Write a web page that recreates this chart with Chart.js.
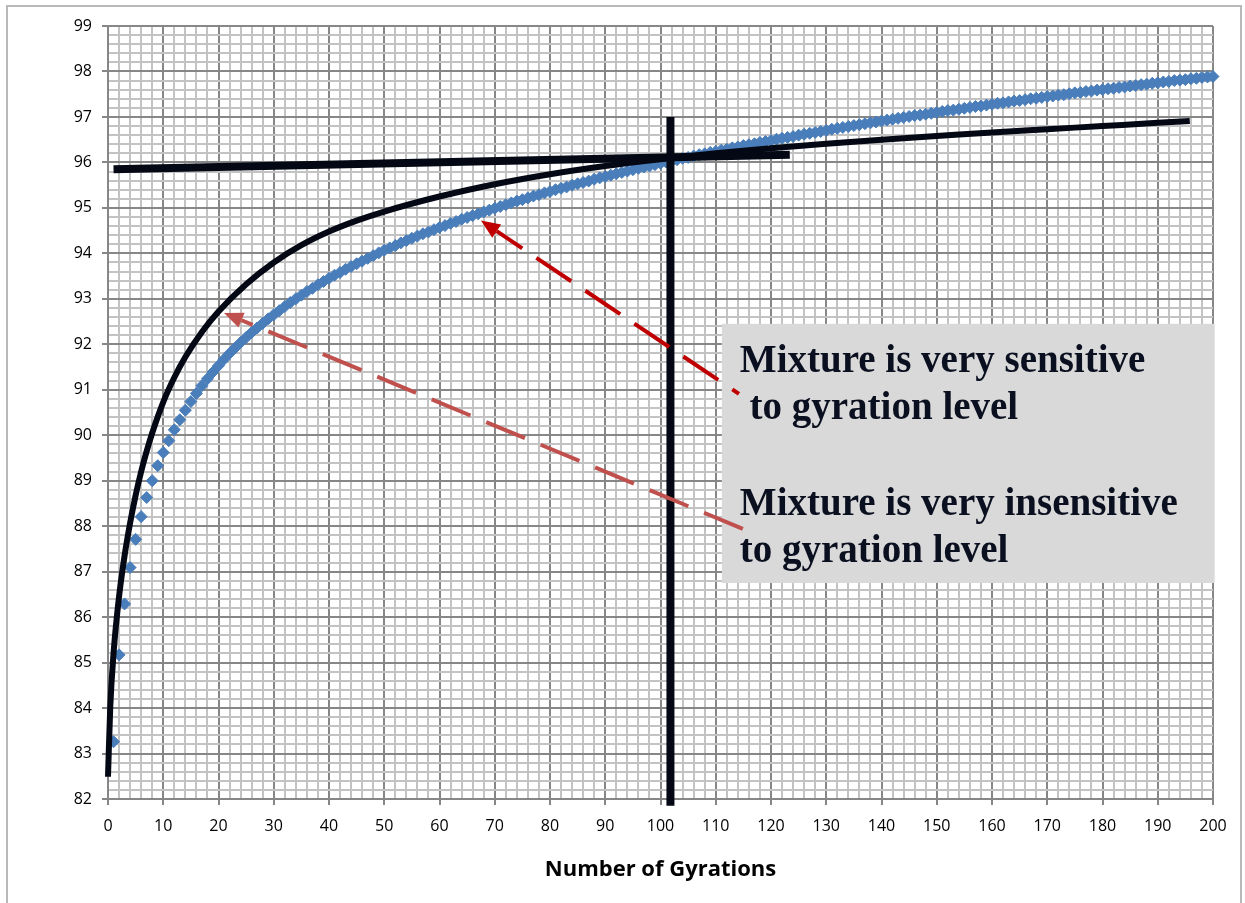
<!DOCTYPE html>
<html>
<head>
<meta charset="utf-8">
<script src="https://cdn.jsdelivr.net/npm/chart.js@4.4.1/dist/chart.umd.min.js"></script>
<style>
  html, body { margin: 0; padding: 0; background: #fff; overflow: hidden; }
  #frame { position: absolute; left: 6px; top: 5px; width: 1236px; height: 930px; border: 2px solid #b9b9b9; box-sizing: border-box; }
  #gyrChart { position: absolute; left: 0; top: 0; }
</style>
</head>
<body>
<div id="frame"></div>
<canvas id="gyrChart" width="1245" height="903"></canvas>
<script>
// blue diamonds, one per gyration (1..200)
const densityY = [
    83.26, 85.17, 86.29, 87.09, 87.71, 88.21, 88.63, 89.00, 89.33, 89.62,
    89.88, 90.12, 90.34, 90.55, 90.74, 90.92, 91.09, 91.24, 91.39, 91.53,
    91.67, 91.80, 91.92, 92.04, 92.15, 92.26, 92.36, 92.46, 92.56, 92.65,
    92.74, 92.83, 92.92, 93.00, 93.08, 93.16, 93.23, 93.31, 93.38, 93.45,
    93.52, 93.58, 93.65, 93.71, 93.77, 93.83, 93.89, 93.95, 94.01, 94.07,
    94.12, 94.17, 94.23, 94.28, 94.33, 94.38, 94.43, 94.47, 94.52, 94.57,
    94.61, 94.66, 94.70, 94.75, 94.79, 94.83, 94.87, 94.91, 94.95, 94.99,
    95.03, 95.07, 95.11, 95.15, 95.18, 95.22, 95.26, 95.29, 95.33, 95.36,
    95.40, 95.43, 95.46, 95.50, 95.53, 95.56, 95.59, 95.63, 95.66, 95.69,
    95.72, 95.75, 95.78, 95.81, 95.84, 95.87, 95.90, 95.92, 95.95, 95.98,
    96.01, 96.03, 96.06, 96.09, 96.11, 96.14, 96.17, 96.19, 96.22, 96.24,
    96.27, 96.29, 96.32, 96.34, 96.37, 96.39, 96.41, 96.44, 96.46, 96.48,
    96.51, 96.53, 96.55, 96.57, 96.60, 96.62, 96.64, 96.66, 96.68, 96.70,
    96.73, 96.75, 96.77, 96.79, 96.81, 96.83, 96.85, 96.87, 96.89, 96.91,
    96.93, 96.95, 96.97, 96.99, 97.01, 97.03, 97.04, 97.06, 97.08, 97.10,
    97.12, 97.14, 97.15, 97.17, 97.19, 97.21, 97.23, 97.24, 97.26, 97.28,
    97.30, 97.31, 97.33, 97.35, 97.36, 97.38, 97.40, 97.41, 97.43, 97.45,
    97.46, 97.48, 97.49, 97.51, 97.53, 97.54, 97.56, 97.57, 97.59, 97.60,
    97.62, 97.63, 97.65, 97.66, 97.68, 97.69, 97.71, 97.72, 97.74, 97.75,
    97.77, 97.78, 97.80, 97.81, 97.82, 97.84, 97.85, 97.87, 97.88, 97.89
];
const densityX = densityY.map((v, i) => i + 1);

// black curve
const curveX = [0, 0.4, 1, 2, 3, 4, 5, 6, 7, 8, 10, 12, 14, 17, 20, 25, 30, 35, 40, 45, 50,
    60, 70, 80, 90, 100, 110, 120, 130, 140, 150, 160, 170, 180, 190, 195.8];
const curveY = [82.49, 84.0, 85.2, 86.45, 87.35, 88.07, 88.68, 89.2, 89.65, 90.05, 90.73, 91.27, 91.72, 92.27, 92.72, 93.32, 93.8, 94.18, 94.48, 94.72, 94.92,
    95.25, 95.52, 95.74, 95.92, 96.07, 96.2, 96.31, 96.41, 96.5, 96.58, 96.66, 96.73, 96.8, 96.87, 96.91];

// thick straight lines
const flatX = [1, 123.4];
const flatY = [95.85, 96.17];
const markX = [101.8, 101.8];
const markY = [97.0, 81.85];

const xTicks = [0, 200, 2];
const yTicks = [82, 99, 0.2];

const noteLines = ['Mixture is very sensitive', ' to gyration level', 'Mixture is very insensitive', 'to gyration level'];
const noteBox = { x0: 111.1, x1: 200.3, y0: 92.45, y1: 86.75 };
const arrows = [
    { from: [114.2, 90.91], to: [67.5, 94.72], color: '#c00000', offset: 34 },
    { from: [114.9, 87.94], to: [21.0, 92.69], color: '#c0504d', offset: 0 }
];

function pts(xs, ys) {
    return xs.map((x, i) => ({ x: x, y: ys[i] }));
}

const major = '#878787';
const minor = '#c3c3c3';

const notesPlugin = {
    id: 'notes',
    afterDatasetsDraw(chart) {
        const ctx = chart.ctx;
        const sx = chart.scales.x, sy = chart.scales.y;
        const bx = sx.getPixelForValue(noteBox.x0), by = sy.getPixelForValue(noteBox.y0);
        const bw = sx.getPixelForValue(noteBox.x1) - bx, bh = sy.getPixelForValue(noteBox.y1) - by;
        ctx.save();
        ctx.fillStyle = '#d9d9d9';
        ctx.fillRect(bx, by, bw, bh);
        ctx.fillStyle = '#0b1020';
        ctx.font = 'bold 39px "Liberation Serif"';
        ctx.textBaseline = 'alphabetic';
        const base = [48, 95, 191, 238];
        noteLines.forEach((t, i) => ctx.fillText(t, bx + 18, by + base[i]));

        arrows.forEach(a => {
            const x1 = sx.getPixelForValue(a.from[0]), y1 = sy.getPixelForValue(a.from[1]);
            const x2 = sx.getPixelForValue(a.to[0]), y2 = sy.getPixelForValue(a.to[1]);
            const ang = Math.atan2(y2 - y1, x2 - x1);
            const head = 19;
            const ex = x2 - Math.cos(ang) * head, ey = y2 - Math.sin(ang) * head;
            ctx.strokeStyle = a.color;
            ctx.fillStyle = a.color;
            ctx.lineWidth = 4;
            ctx.setLineDash([42, 17]);
            ctx.lineDashOffset = a.offset;
            ctx.beginPath();
            ctx.moveTo(x1, y1);
            ctx.lineTo(ex, ey);
            ctx.stroke();
            ctx.setLineDash([]);
            ctx.beginPath();
            ctx.moveTo(x2, y2);
            ctx.lineTo(ex + Math.sin(ang) * 8, ey - Math.cos(ang) * 8);
            ctx.lineTo(ex - Math.sin(ang) * 8, ey + Math.cos(ang) * 8);
            ctx.closePath();
            ctx.fill();
        });
        ctx.restore();
    }
};

const ctx = document.getElementById('gyrChart');
new Chart(ctx, {
    type: 'scatter',
    data: {
        datasets: [
            {
                data: pts(markX, markY), showLine: true, borderColor: '#030814', borderWidth: 8,
                borderCapStyle: 'butt', pointRadius: 0, clip: false, order: 1
            },
            {
                data: pts(flatX, flatY), showLine: true, borderColor: '#030814', borderWidth: 8,
                borderCapStyle: 'butt', pointRadius: 0, clip: false, order: 2
            },
            {
                data: pts(curveX, curveY), showLine: true, borderColor: '#030814', borderWidth: 6,
                cubicInterpolationMode: 'monotone', borderCapStyle: 'butt', pointRadius: 0, clip: false, order: 3
            },
            {
                data: pts(densityX, densityY), showLine: false, pointStyle: 'rectRot', pointRadius: 6,
                backgroundColor: '#4a7ebb', borderColor: '#4a7ebb', borderWidth: 1, clip: false, order: 4
            }
        ]
    },
    options: {
        responsive: false,
        animation: false,
        layout: { padding: { left: 0, top: 26, right: 32, bottom: 0 } },
        plugins: { legend: { display: false }, tooltip: { enabled: false } },
        scales: {
            x: {
                type: 'linear', min: xTicks[0], max: xTicks[1],
                afterFit: s => { s.height = 104; },
                border: { color: major, width: 2 },
                grid: {
                    lineWidth: 2, tickLength: 6,
                    color: c => c.tick.value % 10 === 0 ? major : minor,
                    tickColor: c => c.tick.value % 10 === 0 ? major : 'rgba(0,0,0,0)'
                },
                ticks: {
                    stepSize: xTicks[2], autoSkip: false, maxRotation: 0, padding: 12,
                    color: '#000', font: { family: 'Open Sans', size: 16 },
                    callback: v => v % 10 === 0 ? String(v) : ''
                },
                title: {
                    display: true, text: 'Number of Gyrations', color: '#000',
                    font: { family: 'Open Sans', size: 22, weight: 'bold' },
                    padding: { top: 4, bottom: 20 }
                }
            },
            y: {
                type: 'linear', min: yTicks[0], max: yTicks[1],
                afterFit: s => { s.width = 108; },
                border: { color: major, width: 2 },
                grid: {
                    lineWidth: 2, tickLength: 6,
                    color: c => Math.abs(c.tick.value - Math.round(c.tick.value)) < 1e-6 ? major : minor,
                    tickColor: c => Math.abs(c.tick.value - Math.round(c.tick.value)) < 1e-6 ? major : 'rgba(0,0,0,0)'
                },
                ticks: {
                    stepSize: yTicks[2], autoSkip: false, padding: 10,
                    color: '#000', font: { family: 'Open Sans', size: 16 },
                    callback: v => Math.abs(v - Math.round(v)) < 1e-6 ? String(Math.round(v)) : ''
                }
            }
        }
    },
    plugins: [notesPlugin]
});
</script>
</body>
</html>
